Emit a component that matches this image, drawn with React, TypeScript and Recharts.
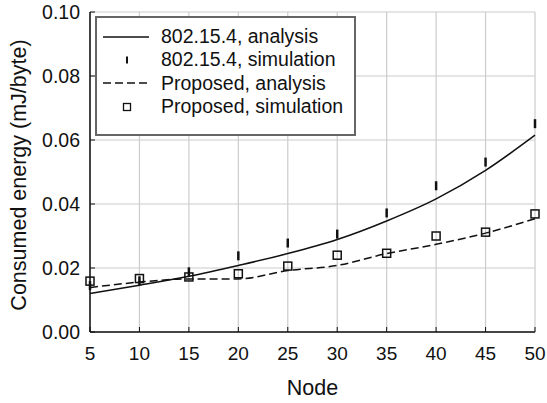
import { ComposedChart, Line, Scatter, XAxis, YAxis, CartesianGrid } from 'recharts';

const nodes = [5, 10, 15, 20, 25, 30, 35, 40, 45, 50];
const ieeeAnalysis = [0.012, 0.0146, 0.0174, 0.0208, 0.0245, 0.0289, 0.0347, 0.0416, 0.0505, 0.0615];
const ieeeSimulation = [0.0145, 0.016, 0.0188, 0.0238, 0.0278, 0.0306, 0.0372, 0.0457, 0.0531, 0.0651];
const propAnalysis = [0.0139, 0.0156, 0.0166, 0.0166, 0.0192, 0.0208, 0.0245, 0.0274, 0.0309, 0.0354];
const propSimulation = [0.0159, 0.0167, 0.0172, 0.0182, 0.0206, 0.024, 0.0246, 0.03, 0.0312, 0.0369];
const xTicks = [5, 10, 15, 20, 25, 30, 35, 40, 45, 50];
const yTicks = [0, 0.02, 0.04, 0.06, 0.08, 0.1];

const data = nodes.map((n, i) => ({
  node: n,
  ieeeA: ieeeAnalysis[i],
  ieeeS: ieeeSimulation[i],
  propA: propAnalysis[i],
  propS: propSimulation[i],
}));

const FONT = '"Liberation Sans", Arial, sans-serif';
const INK = '#111';
const axisLine = { stroke: INK, strokeWidth: 1.5 };

function TickMark(props: any) {
  const { cx, cy } = props;
  return <line x1={cx} x2={cx} y1={cy - 4.5} y2={cy + 4.5} stroke={INK} strokeWidth={2.5} />;
}

function SquareMark(props: any) {
  const { cx, cy } = props;
  return <rect x={cx - 4} y={cy - 4} width={8} height={8} fill="none" stroke={INK} strokeWidth={1.5} />;
}

const legendRows = [
  { label: '802.15.4, analysis', kind: 'solid' },
  { label: '802.15.4, simulation', kind: 'tick' },
  { label: 'Proposed, analysis', kind: 'dash' },
  { label: 'Proposed, simulation', kind: 'square' },
];

function LegendBox() {
  return (
    <div
      style={{
        position: 'absolute',
        left: 95,
        top: 16,
        width: 257,
        height: 109,
        border: '2px solid #666',
        background: '#fff',
        padding: '7px 0 0 0',
        fontFamily: FONT,
        fontSize: 19.5,
        color: INK,
        lineHeight: '23.3px',
      }}
    >
      {legendRows.map((r) => (
        <div key={r.label} style={{ display: 'flex', alignItems: 'center', height: 23.3 }}>
          <svg width={64} height={20}>
            {r.kind === 'solid' && <line x1={6} x2={52} y1={10} y2={10} stroke={INK} strokeWidth={1.5} />}
            {r.kind === 'dash' && (
              <line x1={6} x2={52} y1={10} y2={10} stroke={INK} strokeWidth={1.5} strokeDasharray="8 4" />
            )}
            {r.kind === 'tick' && <line x1={30} x2={30} y1={6.5} y2={13.5} stroke={INK} strokeWidth={2} />}
            {r.kind === 'square' && (
              <rect x={26.5} y={6.5} width={7} height={7} fill="none" stroke={INK} strokeWidth={1.3} />
            )}
          </svg>
          <span>{r.label}</span>
        </div>
      ))}
    </div>
  );
}

export default function App() {
  return (
    <div style={{ position: 'absolute', left: 0, top: 0, width: 547, height: 403, background: '#fff' }}>
      <ComposedChart width={547} height={403} data={data} margin={{ top: 12, right: 12, bottom: 0, left: 0 }}>
        <CartesianGrid stroke="#cccccc" strokeWidth={1.2} />
        <XAxis
          dataKey="node"
          type="number"
          domain={[5, 50]}
          ticks={xTicks}
          height={71}
          tickSize={-5}
          tickMargin={20}
          tickLine={{ stroke: INK, strokeWidth: 1 }}
          axisLine={axisLine}
          tick={{ fill: INK, fontSize: 19, fontFamily: FONT }}
          label={{
            content: (p: any) => (
              <text
                x={p.viewBox.x + p.viewBox.width / 2}
                y={p.viewBox.y + 63}
                textAnchor="middle"
                fill={INK}
                fontSize={21.5}
                fontFamily={FONT}
              >
                Node
              </text>
            ),
          }}
        />
        <XAxis
          xAxisId="top"
          orientation="top"
          type="number"
          domain={[5, 50]}
          ticks={xTicks}
          height={0}
          tick={false}
          tickSize={-5}
          tickLine={{ stroke: INK, strokeWidth: 1 }}
          axisLine={axisLine}
        />
        <YAxis
          type="number"
          domain={[0, 0.1]}
          ticks={yTicks}
          width={90}
          tickSize={-5}
          tickMargin={15}
          tickLine={{ stroke: INK, strokeWidth: 1 }}
          tickFormatter={(v: number) => v.toFixed(2)}
          axisLine={axisLine}
          tick={{ fill: INK, fontSize: 19.5, fontFamily: FONT }}
          label={{
            content: (p: any) => {
              const cx = 26;
              const cy = 175;
              return (
                <text
                  x={cx}
                  y={cy}
                  transform={`rotate(-90 ${cx} ${cy})`}
                  textAnchor="middle"
                  fill={INK}
                  fontSize={21.5}
                  fontFamily={FONT}
                >
                  Consumed energy (mJ/byte)
                </text>
              );
            },
          }}
        />
        <YAxis
          yAxisId="right"
          orientation="right"
          type="number"
          domain={[0, 0.1]}
          ticks={yTicks}
          width={0}
          tick={false}
          tickSize={-5}
          tickLine={{ stroke: INK, strokeWidth: 1 }}
          axisLine={axisLine}
        />
        <Line dataKey="ieeeA" type="monotone" stroke={INK} strokeWidth={1.5} dot={false} isAnimationActive={false} />
        <Line
          dataKey="propA"
          type="monotone"
          stroke={INK}
          strokeWidth={1.5}
          strokeDasharray="8 4"
          dot={false}
          isAnimationActive={false}
        />
        <Scatter dataKey="ieeeS" shape={TickMark} isAnimationActive={false} />
        <Scatter dataKey="propS" shape={SquareMark} isAnimationActive={false} />
      </ComposedChart>
      <LegendBox />
    </div>
  );
}
